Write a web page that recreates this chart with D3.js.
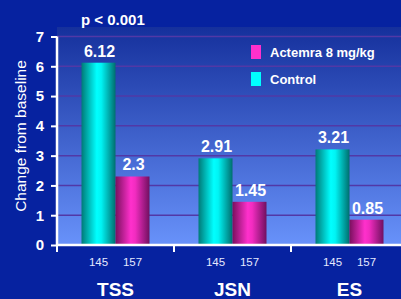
<!DOCTYPE html>
<html>
<head>
<meta charset="utf-8">
<script src="https://cdn.jsdelivr.net/npm/d3@7"></script>
<style>
  body { margin: 0; background: #0622a0; }
  svg { display: block; font-family: "Liberation Sans", Arial, sans-serif; }
</style>
</head>
<body>
<svg width="401" height="299"></svg>
<script>
const categories = ['TSS', 'JSN', 'ES'];
const series = ['Control', 'Actemra 8 mg/kg'];
const controlValues = [6.12, 2.91, 3.21];
const actemraValues = [2.3, 1.45, 0.85];
const controlN = ['145', '145', '145'];
const actemraN = ['157', '157', '157'];
const yTicks = [0, 1, 2, 3, 4, 5, 6, 7];

const svg = d3.select('svg');
const width = +svg.attr('width');
const height = +svg.attr('height');

const plotLeft = 57, plotTop = 27, plotBottom = 245;

const defs = svg.append('defs');

const bg = defs.append('linearGradient')
  .attr('id', 'bg').attr('x1', 0).attr('y1', 0).attr('x2', 0).attr('y2', 1);
bg.append('stop').attr('offset', '0%').attr('stop-color', '#15309c');
bg.append('stop').attr('offset', '100%').attr('stop-color', '#6892fa');

const cyanGrad = defs.append('linearGradient')
  .attr('id', 'cyanGrad').attr('x1', 0).attr('y1', 0).attr('x2', 1).attr('y2', 0);
cyanGrad.append('stop').attr('offset', '0%').attr('stop-color', '#007a78');
cyanGrad.append('stop').attr('offset', '45%').attr('stop-color', '#00ffff');
cyanGrad.append('stop').attr('offset', '58%').attr('stop-color', '#00f4f4');
cyanGrad.append('stop').attr('offset', '100%').attr('stop-color', '#006e6e');

const magGrad = defs.append('linearGradient')
  .attr('id', 'magGrad').attr('x1', 0).attr('y1', 0).attr('x2', 1).attr('y2', 0);
magGrad.append('stop').attr('offset', '0%').attr('stop-color', '#7a105e');
magGrad.append('stop').attr('offset', '45%').attr('stop-color', '#ff30cc');
magGrad.append('stop').attr('offset', '58%').attr('stop-color', '#f22cc0');
magGrad.append('stop').attr('offset', '100%').attr('stop-color', '#701060');

const fills = { 'Control': 'url(#cyanGrad)', 'Actemra 8 mg/kg': 'url(#magGrad)' };
const legendFills = { 'Control': '#00ffff', 'Actemra 8 mg/kg': '#ff30cc' };

const x = d3.scaleBand().domain(categories).range([plotLeft, plotLeft + 3 * 117]);
const xInner = d3.scaleBand().domain(series).range([0, 68]);
const inset = (x.bandwidth() - 68) / 2;
const y = d3.scaleLinear().domain([0, 7]).range([plotBottom, 36.5]);

// plot background
svg.append('rect')
  .attr('x', plotLeft).attr('y', plotTop)
  .attr('width', width - plotLeft).attr('height', plotBottom - plotTop)
  .attr('fill', 'url(#bg)');

// gridlines
svg.append('g').selectAll('line')
  .data(yTicks.filter(d => d > 0))
  .join('line')
  .attr('x1', plotLeft).attr('x2', width)
  .attr('y1', d => y(d)).attr('y2', d => y(d))
  .attr('stroke', '#5238a6').attr('stroke-width', 1.5);

// bars
const rows = categories.map((c, i) => [
  { cat: c, s: 'Control', v: controlValues[i], n: controlN[i] },
  { cat: c, s: 'Actemra 8 mg/kg', v: actemraValues[i], n: actemraN[i] }
]).flat();

const barG = svg.append('g');
barG.selectAll('rect')
  .data(rows)
  .join('rect')
  .attr('x', d => x(d.cat) + inset + xInner(d.s))
  .attr('y', d => y(d.v))
  .attr('width', xInner.bandwidth())
  .attr('height', d => y(0) - y(d.v))
  .attr('fill', d => fills[d.s]);

barG.selectAll('text.val')
  .data(rows)
  .join('text')
  .attr('class', 'val')
  .attr('x', d => x(d.cat) + inset + xInner(d.s) + xInner.bandwidth() / 2 + 1)
  .attr('y', d => y(d.v) - 6)
  .attr('text-anchor', 'middle')
  .attr('fill', 'white').attr('font-weight', 'bold').attr('font-size', 16)
  .text(d => d.v);

barG.selectAll('text.n')
  .data(rows)
  .join('text')
  .attr('class', 'n')
  .attr('x', d => x(d.cat) + inset + xInner(d.s) + xInner.bandwidth() / 2)
  .attr('y', 266)
  .attr('text-anchor', 'middle')
  .attr('fill', '#e4e8ff').attr('font-size', 11.5)
  .text(d => d.n);

// y axis
const yAxis = svg.append('g')
  .attr('transform', `translate(${plotLeft},0)`)
  .call(d3.axisLeft(y).tickValues(yTicks).tickSize(6).tickPadding(7).tickFormat(d3.format('d')));
yAxis.select('.domain').attr('stroke', 'white').attr('stroke-width', 2.5)
  .attr('d', `M0,${y(7)}V${plotBottom}`);
yAxis.selectAll('.tick line').attr('stroke', 'white').attr('stroke-width', 2);
yAxis.selectAll('.tick text')
  .attr('fill', 'white').attr('font-size', 15).attr('font-weight', 'bold')
  .attr('font-family', '"Liberation Sans", Arial, sans-serif');

// x axis
const xAxis = svg.append('g')
  .attr('transform', `translate(0,${plotBottom})`)
  .call(d3.axisBottom(x).tickSize(0).tickPadding(38));
xAxis.select('.domain').attr('stroke', 'white').attr('stroke-width', 2.5)
  .attr('d', `M${plotLeft},0H${width}`);
xAxis.selectAll('.tick text')
  .attr('fill', 'white').attr('font-size', 19).attr('font-weight', 'bold')
  .attr('font-family', '"Liberation Sans", Arial, sans-serif');
xAxis.append('g').selectAll('line')
  .data(categories)
  .join('line')
  .attr('x1', d => x(d)).attr('x2', d => x(d))
  .attr('y1', 0).attr('y2', 7)
  .attr('stroke', 'white').attr('stroke-width', 2);

// y title
svg.append('text')
  .attr('transform', 'translate(26,136) rotate(-90)')
  .attr('text-anchor', 'middle')
  .attr('fill', 'white').attr('font-size', 15.5)
  .text('Change from baseline');

// p value
svg.append('text')
  .attr('x', 81).attr('y', 25)
  .attr('fill', 'white').attr('font-size', 15).attr('font-weight', 'bold')
  .text('p < 0.001');

// legend
const legendOrder = ['Actemra 8 mg/kg', 'Control'];
const legend = svg.append('g').selectAll('g')
  .data(legendOrder)
  .join('g')
  .attr('transform', (d, i) => `translate(251,${45 + i * 27})`);
legend.append('rect')
  .attr('width', 10).attr('height', 14)
  .attr('fill', d => legendFills[d]);
legend.append('text')
  .attr('x', 19).attr('y', 11.5)
  .attr('fill', 'white').attr('font-size', 13).attr('font-weight', 'bold')
  .text(d => d);
</script>
</body>
</html>
